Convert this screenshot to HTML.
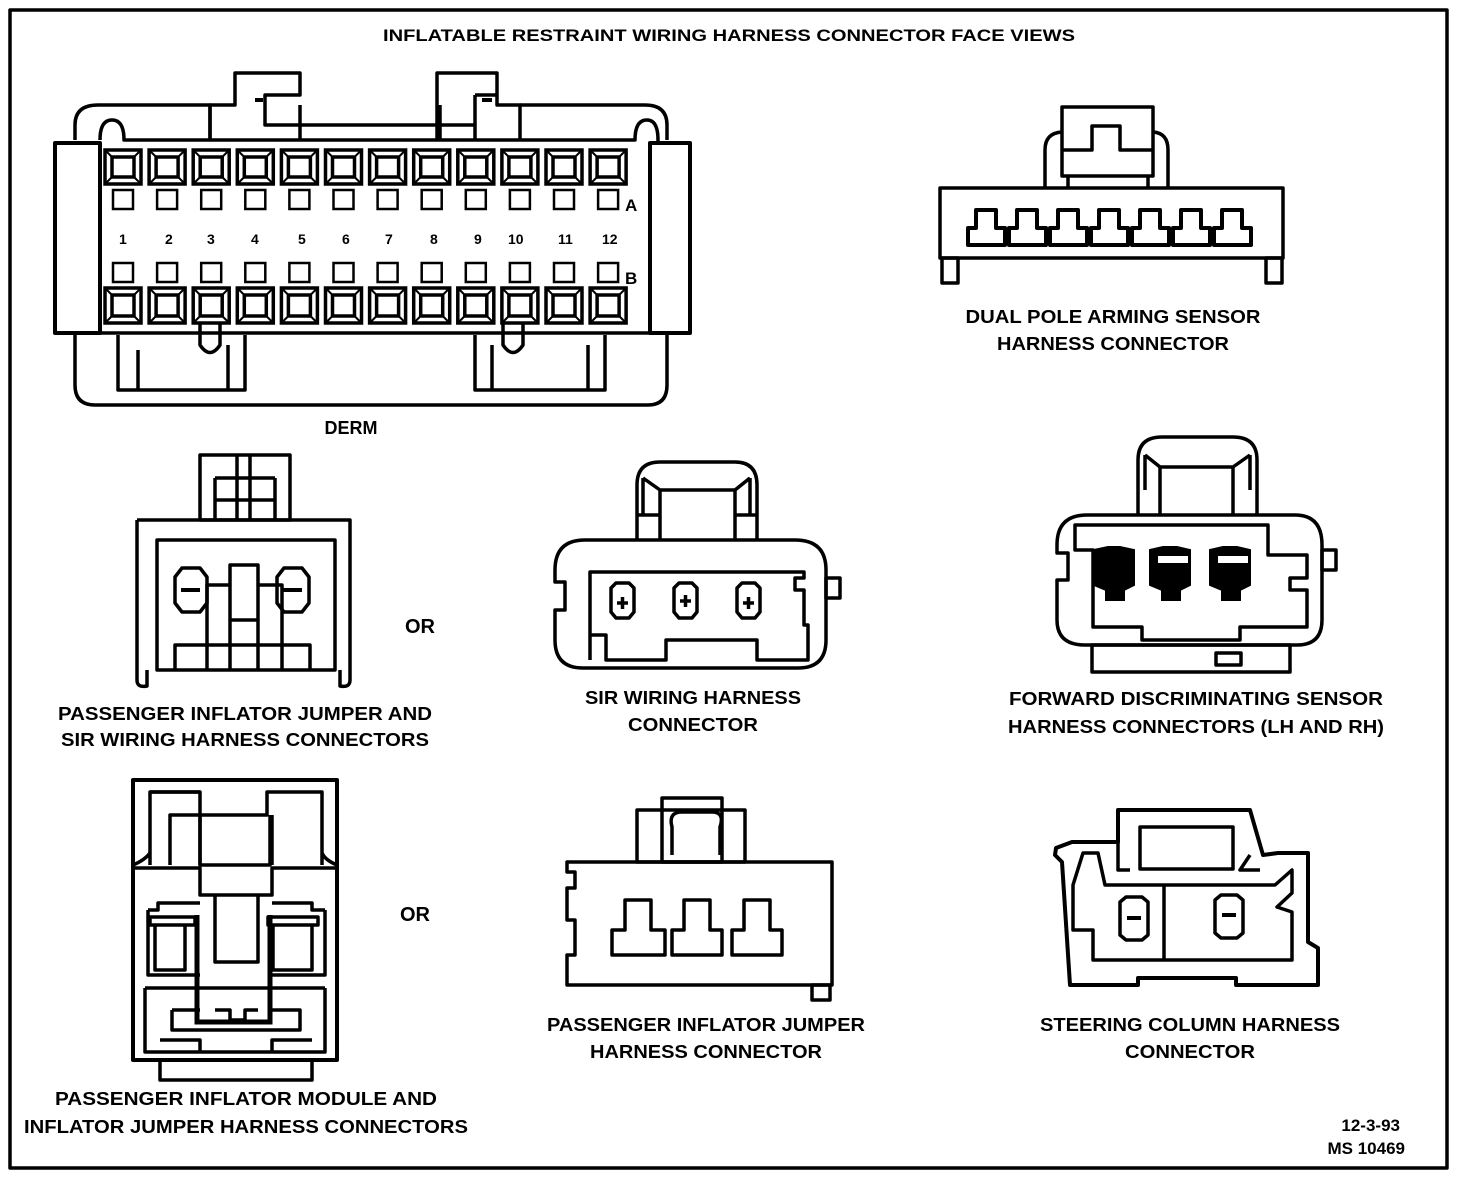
<!DOCTYPE html>
<html><head><meta charset="utf-8"><style>
html,body{margin:0;padding:0;background:#fff;}
svg{display:block}
text{font-family:"Liberation Sans",sans-serif;font-weight:bold;fill:#000}
</style></head><body>
<svg width="1472" height="1184" viewBox="0 0 1472 1184" xmlns="http://www.w3.org/2000/svg">
<g fill="none" stroke="#000" stroke-width="3.5" stroke-linejoin="round">
<rect x="10" y="10" width="1437" height="1158"/>

<!-- DERM -->
<path d="M75,140 L75,125 Q75,105 98,105 L210,105 L210,140" />
<path d="M300,105 L300,140"/>
<path d="M440,105 L440,140"/>
<path d="M520,105 L645,105 Q667,105 667,125 L667,140"/>
<path d="M75,335 L75,385 Q75,405 95,405 L648,405 Q667,405 667,385 L667,335"/>
<rect x="55" y="143" width="45" height="190" stroke-width="4"/>
<rect x="650" y="143" width="40" height="190" stroke-width="4"/>
<path d="M100,140 Q100,120 112,120 Q124,120 124,140 L635,140 Q635,120 647,120 Q658,120 658,140 L658,143"/>
<path d="M100,333 L650,333"/>
<path d="M210,140 L210,105 L235,105 L235,73 L300,73 L300,95 L265,95 L265,125 L475,125 L475,140"/>
<path d="M437,140 L437,105 L437,95 L437,73 L497,73 L497,105 L520,105 L520,140"/>
<path d="M475,95 L497,95 M475,95 L475,125"/>
<path d="M255,100 L263,100 M482,100 L492,100" stroke-width="4"/>
<path d="M118,335 L118,390 L245,390 L245,335 M138,350 L138,390 M228,345 L228,390"/>
<path d="M475,335 L475,390 L605,390 L605,335 M492,345 L492,390 M588,345 L588,390"/>
<path d="M200,323 L200,345 Q210,360 220,345 L220,323"/>
<path d="M503,323 L503,345 Q513,360 523,345 L523,323"/>
</g>
<text x="119" y="244" font-size="14">1</text>
<text x="165" y="244" font-size="14">2</text>
<text x="207" y="244" font-size="14">3</text>
<text x="251" y="244" font-size="14">4</text>
<text x="298" y="244" font-size="14">5</text>
<text x="342" y="244" font-size="14">6</text>
<text x="385" y="244" font-size="14">7</text>
<text x="430" y="244" font-size="14">8</text>
<text x="474" y="244" font-size="14">9</text>
<text x="508" y="244" font-size="14">10</text>
<text x="558" y="244" font-size="14">11</text>
<text x="602" y="244" font-size="14">12</text>
<text x="625" y="211" font-size="17">A</text>
<text x="625" y="284" font-size="17">B</text>

<!-- Dual pole -->
<g fill="none" stroke="#000" stroke-width="3.5" stroke-linejoin="round">
<rect x="940" y="188" width="343" height="70"/>
<rect x="942" y="258" width="16" height="25"/>
<rect x="1266" y="258" width="16" height="25"/>
<path d="M1045,188 L1045,150 Q1045,133 1062,132 M1153,132 Q1168,133 1168,150 L1168,188"/>
<rect x="1062" y="107" width="91" height="69"/>
<path d="M1062,150 L1092,150 L1092,126 L1120,126 L1120,150 L1153,150"/>
<path d="M1068,176 L1068,188 M1148,176 L1148,188"/>
</g>
<g fill="none" stroke="#000" stroke-width="4" stroke-linejoin="round">
<path d="M976,210 L996,210 L996,228 L1005,228 L1005,245 L968,245 L968,228 L976,228 Z"/>
<path d="M1017,210 L1037,210 L1037,228 L1046,228 L1046,245 L1009,245 L1009,228 L1017,228 Z"/>
<path d="M1058,210 L1078,210 L1078,228 L1087,228 L1087,245 L1050,245 L1050,228 L1058,228 Z"/>
<path d="M1099,210 L1119,210 L1119,228 L1128,228 L1128,245 L1091,245 L1091,228 L1099,228 Z"/>
<path d="M1140,210 L1160,210 L1160,228 L1169,228 L1169,245 L1132,245 L1132,228 L1140,228 Z"/>
<path d="M1181,210 L1201,210 L1201,228 L1210,228 L1210,245 L1173,245 L1173,228 L1181,228 Z"/>
<path d="M1222,210 L1242,210 L1242,228 L1251,228 L1251,245 L1214,245 L1214,228 L1222,228 Z"/>
</g>

<!-- Passenger inflator jumper & SIR (left mid) -->
<g fill="none" stroke="#000" stroke-width="3.5" stroke-linejoin="round">
<rect x="200" y="455" width="90" height="65"/>
<path d="M237,455 L237,520 M250,455 L250,520 M215,478 L275,478 M215,478 L215,520 M275,478 L275,520 M215,500 L275,500"/>
<path d="M137,520 L350,520 L350,680 Q350,688 340,686 L340,670 M137,520 L137,680 Q137,688 147,686 L147,670"/>
<path d="M157,670 L157,540 L335,540 L335,670 Z"/>
<path d="M175,577 L182,568 L200,568 L207,577 L207,603 L200,612 L182,612 L175,603 Z"/>
<path d="M277,577 L284,568 L302,568 L309,577 L309,603 L302,612 L284,612 L277,603 Z"/>
<path d="M181,590 L200,590 M283,590 L302,590" stroke-width="4"/>
<path d="M230,670 L230,565 L258,565 L258,670 M207,670 L207,585 L230,585 M258,585 L282,585 L282,670 M230,620 L258,620 M175,670 L175,645 L310,645 L310,670"/>
</g>
<text x="420" y="633" font-size="20" text-anchor="middle">OR</text>

<!-- SIR wiring -->
<g fill="none" stroke="#000" stroke-width="3.5" stroke-linejoin="round">
<path d="M555,570 Q555,540 585,540 L795,540 Q826,540 826,570 L826,640 Q826,668 798,668 L583,668 Q555,668 555,640 L555,610 L565,610 L565,582 L555,582 Z"/>
<rect x="826" y="578" width="14" height="20"/>
<path d="M637,540 L637,485 Q637,462 660,462 L735,462 Q757,462 757,485 L757,540"/>
<path d="M643,478 L660,490 L735,490 L750,478 M660,490 L660,540 M735,490 L735,540 M643,478 L643,515 M750,478 L750,515 M637,515 L660,515 M735,515 L757,515"/>
<path d="M590,660 L590,572 L804,572 L804,578 L795,578 L795,590 L804,590 L804,625 L808,625 L808,660 L757,660 L757,640 L666,640 L666,660 L606,660 L606,635 L590,635"/>
<path d="M611,588 L616,583 L629,583 L634,588 L634,612 L629,618 L616,618 L611,612 Z"/>
<path d="M674,588 L679,583 L692,583 L697,588 L697,612 L692,618 L679,618 L674,612 Z"/>
<path d="M737,588 L742,583 L755,583 L760,588 L760,612 L755,618 L742,618 L737,612 Z"/>
<path d="M617,603 L628,603 M622.5,597 L622.5,609 M680,601 L691,601 M685.5,595 L685.5,607 M743,603 L754,603 M748.5,597 L748.5,609"/>
</g>

<!-- Forward discriminating -->
<g fill="none" stroke="#000" stroke-width="3.5" stroke-linejoin="round">
<path d="M1057,545 Q1057,515 1087,515 L1295,515 Q1322,515 1322,545 L1322,620 Q1322,645 1297,645 L1085,645 Q1057,645 1057,620 L1057,580 L1068,580 L1068,553 L1057,553 Z"/>
<rect x="1322" y="550" width="14" height="20"/>
<path d="M1138,515 L1138,460 Q1138,437 1162,437 L1233,437 Q1257,437 1257,460 L1257,515"/>
<path d="M1145,455 L1160,467 L1233,467 L1250,455 M1160,467 L1160,515 M1233,467 L1233,515 M1145,455 L1145,490 M1250,455 L1250,490"/>
<path d="M1093,627 L1093,550 L1075,550 L1075,525 L1268,525 L1268,555 L1307,555 L1307,578 L1290,578 L1290,590 L1307,590 L1307,627 L1240,627 L1240,640 L1142,640 L1142,627 Z"/>
<rect x="1092" y="645" width="198" height="27"/>
<rect x="1216" y="653" width="25" height="12"/>
</g>
<g fill="#000" stroke="#000" stroke-width="2">
<path d="M1094,550 L1108,547 L1120,547 L1134,550 L1134,585 L1124,590 L1124,600 L1106,600 L1106,590 L1094,585 Z"/>
<path d="M1150,550 L1163,547 L1177,547 L1190,550 L1190,585 L1180,590 L1180,600 L1162,600 L1162,590 L1150,585 Z"/>
<path d="M1210,550 L1223,547 L1237,547 L1250,550 L1250,585 L1240,590 L1240,600 L1222,600 L1222,590 L1210,585 Z"/>
</g>
<g fill="#fff"><rect x="1158" y="556" width="30" height="7"/><rect x="1218" y="556" width="30" height="7"/></g>

<!-- Bottom-left module -->
<g fill="none" stroke="#000" stroke-width="3.5" stroke-linejoin="round">
<rect x="133" y="780" width="204" height="280" stroke-width="4"/>
<rect x="160" y="1060" width="152" height="20"/>
<path d="M150,865 L150,792 L200,792 L200,815 L170,815 L170,865"/>
<path d="M150,792 L200,792 M200,815 L267,815 L267,792 L322,792 L322,865 M272,815 L272,865 M200,815 L200,865"/>
<path d="M133,865 Q145,860 150,853 M337,865 Q325,860 322,853"/>
<path d="M200,815 L200,865 L270,865 L270,815"/>
<path d="M133,868 L200,868 L200,895 L272,895 L272,868 L337,868"/>
<path d="M145,988 L325,988 M145,988 L145,1052 L325,1052 L325,988"/>
<path d="M215,895 L215,962 L258,962 L258,895"/>
<path d="M148,910 L148,975 L200,975 M325,910 L325,975 L272,975"/>
<path d="M148,910 L158,910 L158,903 L200,903 M272,903 L312,903 L312,910 L325,910"/>
<path d="M155,925 L155,970 L185,970 L185,925 Z M150,917 L195,917 L195,925 L150,925 Z"/>
<path d="M273,925 L273,970 L312,970 L312,925 Z M268,917 L318,917 L318,925 L268,925 Z"/>
<path d="M172,1010 L172,1030 L300,1030 L300,1010 L272,1010 M172,1010 L200,1010 M215,1010 L230,1010 L230,1020 L245,1020 L245,1010 L258,1010"/>
<path d="M160,1040 L200,1040 L200,1052 M312,1040 L272,1040 L272,1052"/>
</g>
<path d="M197,915 L197,1022 L270,1022 L270,915" fill="none" stroke="#000" stroke-width="5"/>
<text x="415" y="921" font-size="20" text-anchor="middle">OR</text>

<!-- Passenger inflator jumper -->
<g fill="none" stroke="#000" stroke-width="3.5" stroke-linejoin="round">
<path d="M567,862 L832,862 L832,985 L567,985 L567,955 L575,955 L575,920 L567,920 L567,888 L575,888 L575,872 L567,872 Z"/>
<rect x="812" y="985" width="18" height="15"/>
<rect x="637" y="810" width="108" height="52"/>
<rect x="662" y="798" width="60" height="64"/>
<path d="M672,855 L672,827 Q668,812 682,812 L712,812 Q725,812 720,827 L720,855"/>
<path d="M612,955 L612,930 L625,930 L625,900 L651,900 L651,930 L665,930 L665,955 Z"/>
<path d="M672,955 L672,930 L684,930 L684,900 L710,900 L710,930 L722,930 L722,955 Z"/>
<path d="M732,955 L732,930 L744,930 L744,900 L770,900 L770,930 L782,930 L782,955 Z"/>
</g>

<!-- Steering column -->
<g fill="none" stroke="#000" stroke-width="3.5" stroke-linejoin="round">
<path d="M1056,848 L1072,842 L1118,842 L1118,810 L1250,810 L1263,855 L1278,853 L1308,853 L1308,942 L1318,948 L1318,985 L1236,985 L1236,978 L1138,978 L1138,985 L1070,985 L1062,862 L1055,855 Z" stroke-width="4"/>
<rect x="1140" y="827" width="93" height="42"/>
<path d="M1118,842 L1118,870 L1130,870 M1250,855 L1240,870 L1260,870"/>
<path d="M1073,885 L1083,853 L1098,853 L1105,885 L1275,885 L1292,870 L1292,893 L1277,907 L1292,912 L1292,960 L1093,960 L1093,930 L1073,930 Z"/>
<path d="M1164,885 L1164,960"/>
<path d="M1120,902 L1126,897 L1142,897 L1148,902 L1148,935 L1142,940 L1126,940 L1120,935 Z"/>
<path d="M1215,900 L1221,895 L1237,895 L1243,900 L1243,933 L1237,938 L1221,938 L1215,933 Z"/>
<path d="M1127,918 L1141,918 M1222,915 L1236,915" stroke-width="4"/>
</g>

<!-- labels -->
<text x="729" y="41" font-size="16.5" text-anchor="middle" textLength="692" lengthAdjust="spacingAndGlyphs">INFLATABLE RESTRAINT WIRING HARNESS CONNECTOR FACE VIEWS</text>
<text x="351" y="434" font-size="18" text-anchor="middle">DERM</text>
<text x="1113" y="323" font-size="18" text-anchor="middle" textLength="295" lengthAdjust="spacingAndGlyphs">DUAL POLE ARMING SENSOR</text>
<text x="1113" y="350" font-size="18" text-anchor="middle" textLength="232" lengthAdjust="spacingAndGlyphs">HARNESS CONNECTOR</text>
<text x="245" y="720" font-size="18" text-anchor="middle" textLength="374" lengthAdjust="spacingAndGlyphs">PASSENGER INFLATOR JUMPER AND</text>
<text x="245" y="746" font-size="18" text-anchor="middle" textLength="368" lengthAdjust="spacingAndGlyphs">SIR WIRING HARNESS CONNECTORS</text>
<text x="693" y="704" font-size="18" text-anchor="middle" textLength="216" lengthAdjust="spacingAndGlyphs">SIR WIRING HARNESS</text>
<text x="693" y="731" font-size="18" text-anchor="middle" textLength="130" lengthAdjust="spacingAndGlyphs">CONNECTOR</text>
<text x="1196" y="705" font-size="18" text-anchor="middle" textLength="374" lengthAdjust="spacingAndGlyphs">FORWARD DISCRIMINATING SENSOR</text>
<text x="1196" y="733" font-size="18" text-anchor="middle" textLength="376" lengthAdjust="spacingAndGlyphs">HARNESS CONNECTORS (LH AND RH)</text>
<text x="246" y="1105" font-size="18" text-anchor="middle" textLength="382" lengthAdjust="spacingAndGlyphs">PASSENGER INFLATOR MODULE AND</text>
<text x="246" y="1133" font-size="18" text-anchor="middle" textLength="444" lengthAdjust="spacingAndGlyphs">INFLATOR JUMPER HARNESS CONNECTORS</text>
<text x="706" y="1031" font-size="18" text-anchor="middle" textLength="318" lengthAdjust="spacingAndGlyphs">PASSENGER INFLATOR JUMPER</text>
<text x="706" y="1058" font-size="18" text-anchor="middle" textLength="232" lengthAdjust="spacingAndGlyphs">HARNESS CONNECTOR</text>
<text x="1190" y="1031" font-size="18" text-anchor="middle" textLength="300" lengthAdjust="spacingAndGlyphs">STEERING COLUMN HARNESS</text>
<text x="1190" y="1058" font-size="18" text-anchor="middle" textLength="130" lengthAdjust="spacingAndGlyphs">CONNECTOR</text>
<text x="1400" y="1131" font-size="17" text-anchor="end">12-3-93</text>
<text x="1405" y="1154" font-size="17" text-anchor="end">MS 10469</text>

<!-- DERM pin squares -->
<g fill="none" stroke="#000" stroke-width="3.5">
<g id="tp">
<rect x="105" y="150" width="36" height="34"/><rect x="112" y="157" width="22" height="20"/>
<path d="M105,150 L112,157 M141,150 L134,157 M105,184 L112,177 M141,184 L134,177" stroke-width="2"/>
<rect x="113" y="190" width="20" height="19" stroke-width="2.5"/>
<rect x="113" y="263" width="20" height="19" stroke-width="2.5"/>
<rect x="105" y="288" width="36" height="35"/><rect x="112" y="295" width="22" height="21"/>
<path d="M105,288 L112,295 M141,288 L134,295 M105,323 L112,316 M141,323 L134,316" stroke-width="2"/>
</g>
<use href="#tp" x="44.1"/><use href="#tp" x="88.2"/><use href="#tp" x="132.3"/>
<use href="#tp" x="176.4"/><use href="#tp" x="220.5"/><use href="#tp" x="264.6"/>
<use href="#tp" x="308.7"/><use href="#tp" x="352.8"/><use href="#tp" x="396.9"/>
<use href="#tp" x="441"/><use href="#tp" x="485.1"/>
</g>
</svg>
</body></html>
